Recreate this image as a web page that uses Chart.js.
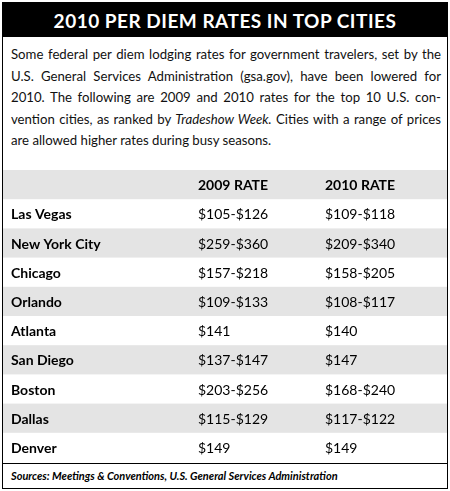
<!DOCTYPE html>
<html><head><meta charset="utf-8">
<script src="https://cdn.jsdelivr.net/npm/chart.js@4"></script>
<style>
body{margin:0;background:#fff;font-family:Lato,"Open Sans",sans-serif;}
#box{position:absolute;left:2px;top:2px;width:444px;height:485px;border:1px solid #000;}
#title{background:#000;color:#fff;height:34px;line-height:35px;text-align:center;font-weight:bold;font-size:19px;letter-spacing:0.5px;}
#intro{position:absolute;left:8px;top:41px;width:430px;font-size:13.2px;line-height:21.5px;color:#111;}
#intro div{text-align:justify;text-align-last:justify;white-space:nowrap;}
#intro div.last{text-align-last:left;}
#wrap{position:absolute;left:0;top:167px;width:444px;height:292px;}
#src{position:absolute;left:0;top:460px;width:444px;border-top:1px solid #000;font-size:11px;font-style:italic;font-weight:bold;padding:5px 0 0 8px;box-sizing:border-box;}
</style></head><body>
<div id="box">
<div id="title">2010 PER DIEM RATES IN TOP CITIES</div>
<div id="intro">
<div>Some federal per diem lodging rates for government travelers, set by the</div>
<div>U.S. General Services Administration (gsa.gov), have been lowered for</div>
<div>2010. The following are 2009 and 2010 rates for the top 10 U.S. con-</div>
<div>vention cities, as ranked by <i>Tradeshow Week.</i> Cities with a range of prices</div>
<div class="last">are allowed higher rates during busy seasons.</div>
</div>
<div id="wrap"><canvas id="c"></canvas></div>
<div id="src">Sources: Meetings &amp; Conventions, U.S. General Services Administration</div>
</div>
<script>
const headers = ['', '2009 RATE', '2010 RATE'];
const cities = ['Las Vegas','New York City','Chicago','Orlando','Atlanta','San Diego','Boston','Dallas','Denver'];
const rate2009 = ['$105-$126','$259-$360','$157-$218','$109-$133','$141','$137-$147','$203-$256','$115-$129','$149'];
const rate2010 = ['$109-$118','$209-$340','$158-$205','$108-$117','$140','$147','$168-$240','$117-$122','$149'];
const rows = ['header'].concat(cities);
const tablePlugin = {
  id:'table',
  beforeDatasetsDraw(chart){
    const ctx=chart.ctx, y=chart.scales.y, w=chart.width;
    const step = y.getPixelForValue(1)-y.getPixelForValue(0);
    const colX=[8,195,322];
    rows.forEach((r,i)=>{
      const cy=y.getPixelForValue(i);
      if(i%2===0){ctx.fillStyle='#e4e4e4';ctx.fillRect(0,cy-step/2,w,step);}
      ctx.fillStyle='#000';ctx.textBaseline='middle';
      const cells = i===0 ? headers : [cities[i-1],rate2009[i-1],rate2010[i-1]];
      cells.forEach((t,j)=>{ctx.font=(j===0||i===0)?'bold 14px Lato, "Open Sans", sans-serif':'14px Lato, "Open Sans", sans-serif';ctx.fillText(t,colX[j],cy+1);});
    });
  }
};
new Chart(document.getElementById('c'),{
  type:'bar',
  data:{labels:rows,datasets:[{data:rows.map(()=>null)}]},
  options:{indexAxis:'y',responsive:true,maintainAspectRatio:false,animation:false,
    layout:{padding:0},
    plugins:{legend:{display:false},tooltip:{enabled:false}},
    scales:{y:{display:false,offset:true},x:{display:false}}},
  plugins:[tablePlugin]
});
</script>
</body></html>
